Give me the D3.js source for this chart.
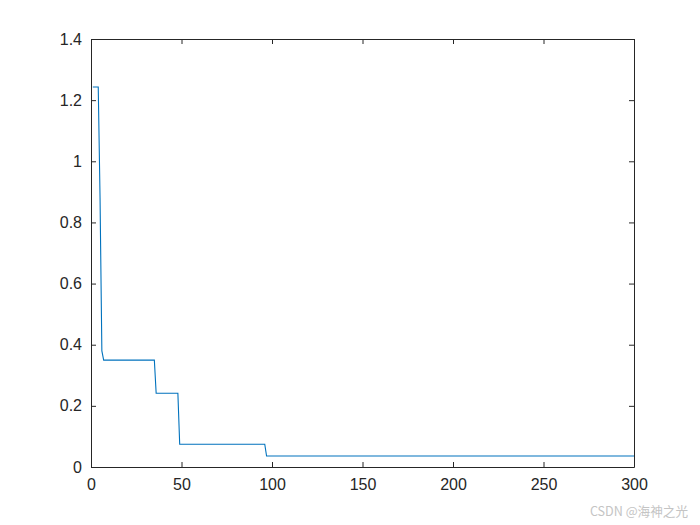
<!DOCTYPE html>
<html>
<head>
<meta charset="utf-8">
<script src="https://cdn.jsdelivr.net/npm/d3@7"></script>
<style>
  body { margin: 0; background: #fff; }
  svg { display: block; }
</style>
</head>
<body>
<div id="chart"></div>
<script>
// iteration / value pairs at the corners of the curve
const iters = [1, 4, 5, 6, 7, 35, 36, 48, 49, 96, 97, 300]
const values = [1.243, 1.243, 0.88, 0.38, 0.3495, 0.3495, 0.241, 0.241, 0.0743, 0.0743, 0.036, 0.036]

const xTicks = [0, 50, 100, 150, 200, 250, 300]
const yTicks = [0, 0.2, 0.4, 0.6, 0.8, 1, 1.2, 1.4]
const yTickLabels = ["0", "0.2", "0.4", "0.6", "0.8", "1", "1.2", "1.4"]

const width = 700
const height = 525
const margin = { top: 39, right: 66, bottom: 58, left: 91 }
const axisColor = "#262626"
const font = "Arial, 'Liberation Sans', sans-serif"

const svg = d3.select("#chart")
	.append("svg")
	.attr("width", width)
	.attr("height", height)

const xScale = d3.scaleLinear()
	.domain([0, 300])
	.range([margin.left, width - margin.right])

const yScale = d3.scaleLinear()
	.domain([0, 1.4])
	.range([height - margin.bottom, margin.top])

// ******************line******************
const pts = iters.map((d, i) => [d, values[i]])

svg.append("path")
	.datum(pts)
	.attr("fill", "none")
	.attr("stroke", "#0072BD")
	.attr("stroke-width", 1.1)
	.attr("d", d3.line().x(d => xScale(d[0])).y(d => yScale(d[1])))

// ******************axes (inner ticks on all four sides)******************
const tickLen = 5

const axBottom = svg.append("g")
	.attr("transform", "translate(0," + yScale(0) + ")")
	.call(d3.axisBottom(xScale).tickValues(xTicks).tickSizeInner(-tickLen).tickSizeOuter(0).tickPadding(12))

const axTop = svg.append("g")
	.attr("transform", "translate(0," + yScale(1.4) + ")")
	.call(d3.axisTop(xScale).tickValues(xTicks).tickSizeInner(-tickLen).tickSizeOuter(0).tickFormat(""))

const axLeft = svg.append("g")
	.attr("transform", "translate(" + xScale(0) + ",0)")
	.call(d3.axisLeft(yScale).tickValues(yTicks).tickSizeInner(-tickLen).tickSizeOuter(0).tickPadding(9)
		.tickFormat((d, i) => yTickLabels[i]))

const axRight = svg.append("g")
	.attr("transform", "translate(" + xScale(300) + ",0)")
	.call(d3.axisRight(yScale).tickValues(yTicks).tickSizeInner(-tickLen).tickSizeOuter(0).tickFormat(""))

;[axBottom, axTop, axLeft, axRight].forEach(g => {
	g.select(".domain").attr("stroke", axisColor).attr("stroke-width", 1)
	g.selectAll(".tick line").attr("stroke", axisColor)
	g.selectAll("text")
		.attr("fill", axisColor)
		.style("font-family", font)
		.style("font-size", "16px")
})

// watermark
svg.append("text")
	.attr("x", 688)
	.attr("y", 516)
	.attr("text-anchor", "end")
	.attr("fill", "#c4c4c4")
	.style("font-family", "'Noto Sans CJK SC', sans-serif")
	.style("font-size", "12.6px")
	.text("CSDN @海神之光")
</script>
</body>
</html>
